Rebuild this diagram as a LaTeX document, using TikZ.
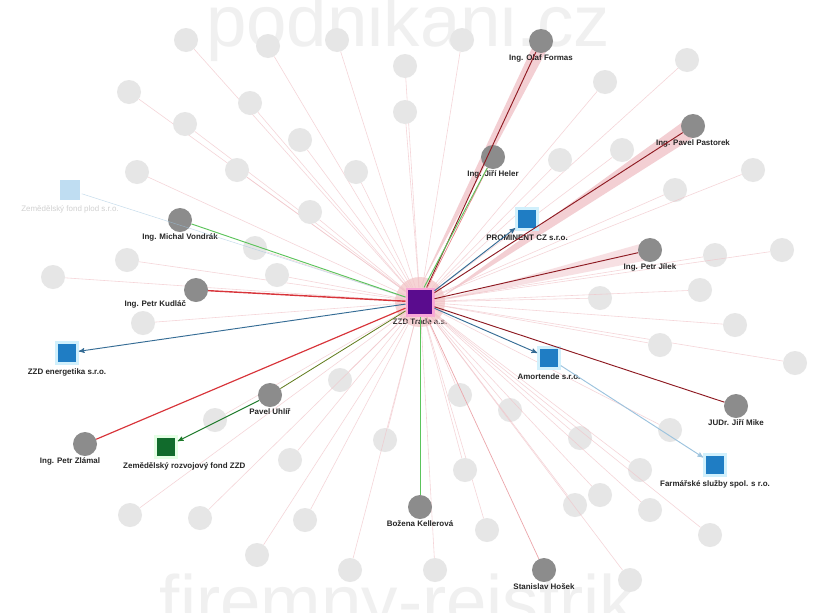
\documentclass[tikz,border=0pt]{standalone}
\usepackage{fontspec}
\setsansfont{Liberation Sans}
\usetikzlibrary{arrows}
\usetikzlibrary{calc}

\definecolor{hubpurple}{HTML}{5A0C8E}
\definecolor{firmblue}{HTML}{1F7DC4}
\definecolor{palefirm}{HTML}{BFDDF2}
\definecolor{persongray}{HTML}{8C8C8C}
\definecolor{fadegray}{HTML}{E6E6E6}
\definecolor{linkpink}{HTML}{F1C3C8}
\definecolor{linkred}{HTML}{D8343A}
\definecolor{linkdark}{HTML}{8E1A22}
\definecolor{linkgreen}{HTML}{5CC45C}
\definecolor{ownsgreen}{HTML}{1D7A2A}
\definecolor{linkblue}{HTML}{356C95}
\definecolor{paleblue}{HTML}{9CC3DE}
\definecolor{fundgreen}{HTML}{116B2C}

\tikzset{
	lbl/.style={font=\sffamily\bfseries\fontsize{6.8}{7}\selectfont, text=black!85, inner sep=1pt},
	fadelbl/.style={font=\sffamily\fontsize{6.8}{7}\selectfont, text=black!18, inner sep=1pt},
	person/.style={circle, fill=persongray, minimum size=0.72cm, inner sep=0pt},
	faded/.style={circle, fill=fadegray, minimum size=0.72cm, inner sep=0pt},
	firm/.style={rectangle, fill=firmblue, draw=cyan!18, line width=2.5pt, minimum size=0.62cm, inner sep=0pt},
	wm/.style={font=\sffamily\fontsize{62}{62}\selectfont, text=black!6, inner sep=0pt},
}

\begin{document}
\begin{tikzpicture}[x=0.03cm, y=-0.03cm, >=stealth']

	\clip (0,0) rectangle (819,612);
	\fill[white] (0,0) rectangle (819,612);

	% watermarks
	\node[wm, anchor=base] (wmtop) at (408,46) {podnikani.cz};
	\node[wm, anchor=base] (wmbot) at (398,626) {firemny-rejstrik};

	% hub
	\node[circle, fill=linkred!35, opacity=0.6, minimum size=1.5cm] (glow) at (420,302) {};
	\node[rectangle, fill=hubpurple, draw=magenta!35, line width=2pt, minimum size=0.8cm, inner sep=0pt,
		label={[lbl, label distance=1pt]below:ZZD Trade a.s.}] (hub) at (420,302) {};

	% faded background nodes
	\foreach \px/\py [count=\i] in {186/40, 268/46, 337/40, 405/66, 462/40, 605/82, 687/60,
		129/92, 185/124, 250/103, 300/140, 356/172, 405/112, 560/160, 622/150, 675/190, 753/170,
		137/172, 237/170, 310/212, 255/248, 127/260, 53/277, 143/323, 277/275,
		600/298, 715/255, 782/250, 700/290, 735/325, 795/363, 660/345,
		215/420, 290/460, 385/440, 340/380, 460/395, 510/410, 580/438, 640/470, 670/430, 600/495,
		130/515, 200/518, 257/555, 305/520, 350/570, 435/570, 487/530, 575/505, 650/510, 710/535, 630/580, 465/470} {
		\node[faded] (f\i) at (\px,\py) {};
		\draw[linkpink, opacity=0.7, line width=0.5pt] (hub) -- (f\i);
	}

	% pink bundles
	\fill[linkpink, opacity=0.8] (hub.north) -- (533,46) -- (549,46) -- cycle;
	\fill[linkpink, opacity=0.8] (hub.east) -- (684,121) -- (699,134) -- cycle;
	\fill[linkpink, opacity=0.5] (hub.east) -- (640,244) -- (648,260) -- cycle;

	% people
	\node[person, label={[lbl]below:Ing. Olaf Formas}] (olaf) at (541,41) {};
	\node[person, label={[lbl]below:Ing. Jiří Heler}] (heler) at (493,157) {};
	\node[person, label={[lbl]below:Ing. Pavel Pastorek}] (pastorek) at (693,126) {};
	\node[person, label={[lbl]below:Ing. Petr Jílek}] (jilek) at (650,250) {};
	\node[person, label={[lbl]below:Ing. Michal Vondrák}] (vondrak) at (180,220) {};
	\node[person, label={[lbl]below left:Ing. Petr Kudláč}] (kudlac) at (196,290) {};
	\node[person, label={[lbl]below:Pavel Uhlíř}] (uhlir) at (270,395) {};
	\node[person, label={[lbl, xshift=-0.45cm]below:Ing. Petr Zlámal}] (zlamal) at (85,444) {};
	\node[person, label={[lbl]below:JUDr. Jiří Mike}] (mike) at (736,406) {};
	\node[person, label={[lbl]below:Božena Kellerová}] (kellerova) at (420,507) {};
	\node[person, label={[lbl]below:Stanislav Hošek}] (hosek) at (544,570) {};

	% firms
	\node[firm, label={[lbl, label distance=2pt]below:PROMINENT CZ s.r.o.}] (prominent) at (527,219) {};
	\node[firm, label={[lbl, label distance=2pt]below:ZZD energetika s.r.o.}] (energetika) at (67,353) {};
	\node[firm, label={[lbl, label distance=2pt]below:Amortende s.r.o.}] (amortende) at (549,358) {};
	\node[firm, label={[lbl, label distance=2pt]below:Farmářské služby spol. s r.o.}] (farmarske) at (715,465) {};
	\node[firm, fill=fundgreen, draw=green!10, label={[lbl, label distance=2pt, xshift=0.55cm]below:Zemědělský rozvojový fond ZZD}] (fond) at (166,447) {};
	\node[firm, fill=palefirm, draw=none, label={[fadelbl, label distance=2pt]below:Zemědělský fond plod s.r.o.}] (plod) at (70,190) {};

	% links
	\draw[paleblue, opacity=0.6] (hub) -- (plod);
	\draw[linkdark, line width=0.8pt] (hub) -- (olaf);
	\draw[linkred!60, line width=0.6pt] (hub) -- (heler);
	\draw[linkgreen, line width=0.8pt] ($(hub.north)+(4,0)$) -- (heler);
	\draw[linkdark, line width=0.8pt] (hub) -- (pastorek);
	\draw[linkdark, line width=0.8pt] (hub) -- (jilek);
	\draw[linkgreen, line width=0.8pt] (hub) -- (vondrak);
	\draw[linkred, line width=1.2pt] (hub) -- (kudlac);
	\draw[linkred, line width=1pt] (hub) -- (zlamal);
	\draw[linkdark, line width=0.8pt] (hub) -- (mike);
	\draw[linkgreen, line width=0.8pt] (hub) -- (kellerova);
	\draw[linkpink!80!linkred, line width=0.6pt] (hub) -- (hosek);
	\draw[ownsgreen!70!orange, line width=0.7pt] (hub) -- (uhlir);
	\draw[->, linkblue, line width=0.8pt] (hub) -- (prominent);
	\draw[->, linkblue, line width=0.8pt] (hub) -- (energetika);
	\draw[->, linkblue, line width=0.8pt] (hub) -- (amortende);
	\draw[->, paleblue, line width=0.8pt] (amortende) -- (farmarske);
	\draw[->, ownsgreen, line width=0.8pt] (uhlir) -- (fond);

\end{tikzpicture}
\end{document}
